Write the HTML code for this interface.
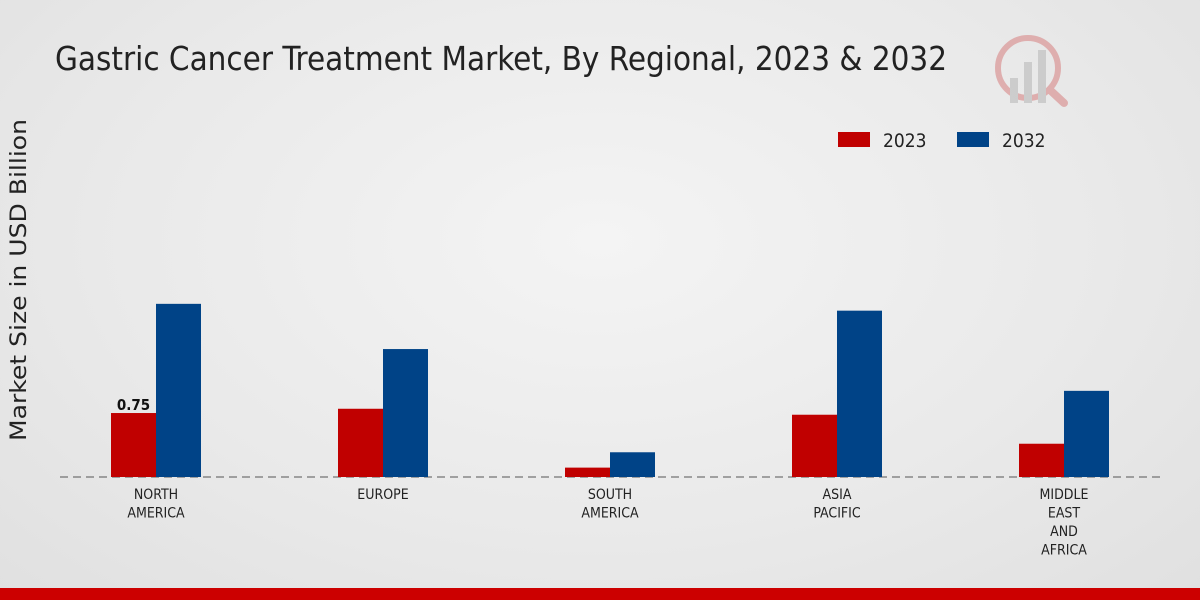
<!DOCTYPE html>
<html><head><meta charset="utf-8"><style>
html,body{margin:0;padding:0;}
body{width:1200px;height:600px;overflow:hidden;background:radial-gradient(ellipse at 50% 40%,#f4f4f4 0%,#e9e9e9 60%,#e0e0e0 100%);font-family:"Liberation Sans","DejaVu Sans",sans-serif;position:relative;}
svg{display:block;}
.cond{font-family:"DejaVu Sans Condensed","Liberation Sans Narrow","Liberation Sans",sans-serif;}
</style></head><body>
<svg width="1200" height="600" xmlns="http://www.w3.org/2000/svg" id="chart">
<text x="55" y="70" font-size="33" fill="#222" class="cond" textLength="892" lengthAdjust="spacingAndGlyphs">Gastric Cancer Treatment Market, By Regional, 2023 &amp; 2032</text>
<g opacity="0.35">
<circle cx="1028" cy="68" r="30" fill="none" stroke="#c44" stroke-width="6"/>
<rect x="1010" y="78" width="8" height="25" fill="#999"/>
<rect x="1024" y="62" width="8" height="41" fill="#999"/>
<rect x="1038" y="50" width="8" height="53" fill="#999"/>
<line x1="1050" y1="90" x2="1064" y2="103" stroke="#c44" stroke-width="8" stroke-linecap="round"/>
</g>
<g>
<rect x="838" y="132" width="32" height="15" fill="#c00000"/>
<text x="883" y="147" font-size="19" fill="#222" class="cond">2023</text>
<rect x="957" y="132" width="32" height="15" fill="#004387"/>
<text x="1002" y="147" font-size="19" fill="#222" class="cond">2032</text>
</g>
<text transform="translate(26,280) rotate(-90)" text-anchor="middle" font-size="22" fill="#222" font-family="'DejaVu Sans',sans-serif" textLength="322" lengthAdjust="spacingAndGlyphs">Market Size in USD Billion</text>
<line x1="60" y1="477" x2="1160" y2="477" stroke="#555" stroke-dasharray="8,5"/>
<g id="bars"></g>
<g id="labels"></g>
</svg>
<div style="position:absolute;left:0;top:588px;width:1200px;height:12px;background:#cc0000;"></div>
<script>
const categories=[["NORTH","AMERICA"],["EUROPE"],["SOUTH","AMERICA"],["ASIA","PACIFIC"],["MIDDLE","EAST","AND","AFRICA"]];
const values2023=[0.75,0.80,0.11,0.73,0.39];
const values2032=[2.03,1.50,0.29,1.95,1.01];
const ns="http://www.w3.org/2000/svg";
const baseY=477,pxPerUnit=85.3,x0=156,step=227,bw=45;
const yScale=v=>v*pxPerUnit;
const xCenter=i=>x0+i*step;
const bars=document.getElementById('bars'),labels=document.getElementById('labels');
function mk(tag,attrs){const e=document.createElementNS(ns,tag);for(const k in attrs)e.setAttribute(k,attrs[k]);return e;}
categories.forEach((cat,i)=>{
 const cx=xCenter(i);
 const h1=yScale(values2023[i]),h2=yScale(values2032[i]);
 const r1=mk('rect',{x:cx-bw,y:baseY-h1,width:bw,height:h1,fill:'#c00000'});
 
 
 bars.appendChild(r1);
 const r2=mk('rect',{x:cx,y:baseY-h2,width:bw,height:h2,fill:'#004387'});
 
 
 bars.appendChild(r2);
 const t=mk('text',{x:cx,y:499,'text-anchor':'middle','font-size':'14',fill:'#222','class':'cond'});
 
 
 cat.forEach((ln,j)=>{const s=mk('tspan',{x:cx,dy:j?18.5:0});s.textContent=ln;t.appendChild(s);});
 labels.appendChild(t);
});
const v=mk('text',{x:xCenter(0)-bw/2,y:baseY-yScale(values2023[0])-3,'text-anchor':'middle','font-size':'15','font-weight':'bold',fill:'#111','class':'cond'});


v.textContent=values2023[0].toFixed(2);
labels.appendChild(v);
</script>
</body></html>
